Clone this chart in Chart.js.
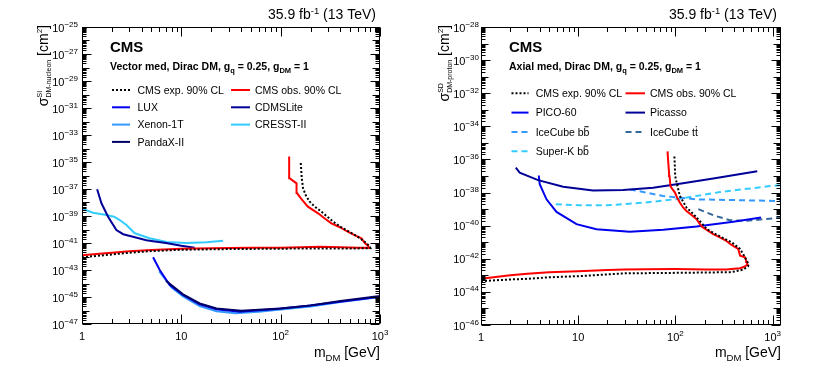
<!DOCTYPE html>
<html><head><meta charset="utf-8">
<script src="https://cdn.jsdelivr.net/npm/chart.js@4.4.0/dist/chart.umd.min.js"></script>
<style>
html,body{margin:0;padding:0;background:#fff;}
#wrap{position:relative;width:830px;height:374px;overflow:hidden;background:#fff;}
canvas{position:absolute;top:0;}
</style></head><body>
<div id="wrap">
<canvas id="c1" width="415" height="374" style="left:0;width:415px;height:374px"></canvas>
<canvas id="c2" width="415" height="374" style="left:415px;width:415px;height:374px"></canvas>
</div>
<script>
// ===== Left panel (spin-independent, vector mediator): mass [GeV], log10(cross-section [cm^2]) =====
const siCmsObsMass = [1, 1.5, 2, 3, 5, 10, 20, 50, 100, 250, 400, 600, 775, 760, 707, 650, 553, 458, 400, 324, 280, 238, 188, 182, 160, 146, 145, 144, 123, 122, 121.6];
const siCmsObsLog  = [-41.9, -41.8, -41.72, -41.62, -41.52, -41.43, -41.38, -41.36, -41.35, -41.28, -41.32, -41.35, -41.36, -41.2, -41.02, -40.65, -40.41, -40.11, -39.85, -39.54, -39.2, -38.8, -38.31, -38.19, -37.7, -37.3, -37.07, -36.58, -36.2, -35.5, -34.6];
const siCmsExpMass = [1, 2, 3, 5, 10, 30, 100, 300, 600, 800, 790, 760, 700, 600, 500, 400, 338, 300, 257, 220, 196, 180, 168, 163, 159];
const siCmsExpLog  = [-42.06, -41.85, -41.72, -41.6, -41.5, -41.45, -41.42, -41.4, -41.4, -41.38, -41.3, -41.15, -40.9, -40.55, -40.2, -39.8, -39.42, -39.1, -38.68, -38.3, -37.94, -37.5, -36.95, -36.2, -34.98];
const luxMass = [5.2, 6.06, 7.64, 10.4, 15.3, 22.6, 38.7, 83.8, 182, 394, 1000];
const luxLog  = [-42.06, -43.0, -44.11, -44.85, -45.54, -45.91, -46.09, -45.91, -45.67, -45.35, -44.98];
const xenonMass = [6, 8, 10.4, 15.3, 22.6, 35, 60, 100, 200, 400, 1000];
const xenonLog  = [-43.1, -44.3, -44.95, -45.68, -46.05, -46.2, -46.1, -45.92, -45.7, -45.38, -45.0];
const pandaMass = [7, 10.4, 15.3, 22.6, 40, 100, 200, 400, 1000];
const pandaLog  = [-43.8, -44.8, -45.48, -45.85, -46.02, -45.85, -45.62, -45.3, -44.93];
const cdmsMass = [1.42, 1.57, 1.83, 2.22, 2.6, 3.26, 4.45, 5.2, 7, 10, 13.6];
const cdmsLog  = [-37.02, -38.06, -39.05, -40.04, -40.35, -40.53, -40.8, -40.87, -41.0, -41.2, -41.35];
const cresstMass = [1, 1.29, 1.76, 2.1, 2.4, 2.8, 3.4, 4.8, 7.1, 11.2, 17.9, 26.3];
const cresstLog  = [-38.45, -38.76, -38.93, -39.05, -39.3, -39.67, -40.28, -40.65, -40.93, -41.0, -40.95, -40.83];

// ===== Right panel (spin-dependent, axial mediator) =====
const sdCmsObsMass = [1, 2, 3, 5, 10, 20, 30, 50, 100, 209, 335, 400, 463, 510, 553, 540, 534, 520, 463, 443, 400, 366, 330, 287, 245, 210, 186, 165, 150, 130, 120, 111, 104, 99, 92, 89, 87, 86, 84, 83];
const sdCmsObsLog  = [-43.21, -43.0, -42.91, -42.82, -42.76, -42.68, -42.65, -42.63, -42.62, -42.65, -42.65, -42.6, -42.57, -42.48, -42.35, -42.2, -42.11, -41.91, -41.81, -41.41, -41.25, -41.11, -40.9, -40.71, -40.51, -40.25, -40.05, -39.61, -39.4, -39.11, -38.9, -38.6, -38.3, -38.0, -37.75, -37.61, -37.0, -36.8, -36.0, -35.51];
const sdCmsExpMass = [1, 2, 3, 5, 10, 30, 100, 200, 363, 420, 500, 560, 565, 520, 463, 380, 287, 210, 178, 150, 130, 111, 103, 99.5, 98.5, 97.5];
const sdCmsExpLog  = [-43.35, -43.25, -43.21, -43.12, -43.05, -42.88, -42.85, -42.83, -42.81, -42.75, -42.65, -42.45, -42.31, -41.91, -41.41, -41.01, -40.65, -40.21, -39.71, -39.25, -38.9, -38.2, -37.4, -37.0, -36.3, -35.77];
const picoMass = [3.93, 4.02, 4.72, 5.98, 9.6, 15.4, 34, 75, 165, 394, 760];
const picoLog  = [-36.97, -37.5, -38.41, -39.17, -39.91, -40.21, -40.37, -40.25, -40.05, -39.77, -39.5];
const picassoMass = [2.28, 2.5, 3.87, 7.0, 14.2, 29, 59, 111, 245, 695];
const picassoLog  = [-36.5, -36.8, -37.25, -37.65, -37.87, -37.85, -37.71, -37.47, -37.15, -36.71];
const iceBbMass = [34, 75, 165, 540, 1220];
const iceBbLog  = [-37.81, -38.21, -38.41, -38.47, -38.51];
const iceTtMass = [172, 245, 363, 540, 1220];
const iceTtLog  = [-39.0, -39.37, -39.67, -39.71, -39.51];
const superKMass = [5.88, 10, 19.6, 50, 111, 287, 938, 1220];
const superKLog  = [-38.71, -38.76, -38.77, -38.6, -38.37, -37.97, -37.61, -37.55];

// ===== Axis tick labels =====
const xTickValues = [1, 10, 100, 1000];
const xTickLabels = [['1'], ['10'], ['10', '2'], ['10', '3']];
const yTickExpLeft  = [-25, -27, -29, -31, -33, -35, -37, -39, -41, -43, -45, -47];
const yTickExpRight = [-28, -30, -32, -34, -36, -38, -40, -42, -44, -46];

const FF = '"Liberation Sans", Arial, Helvetica, sans-serif';
function fnt(p){ return (p.bold ? 'bold ' : '') + p.size + 'px ' + FF; }
function richWidth(ctx, parts){
  let w = 0;
  for (const p of parts){ ctx.font = fnt(p); const pw = ctx.measureText(p.t).width; if (!p.stack) w += pw; }
  return w;
}
function drawRich(ctx, parts, x, y, align){
  const w = richWidth(ctx, parts);
  let cx = align === 'right' ? x - w : (align === 'center' ? x - w / 2 : x);
  ctx.textAlign = 'left'; ctx.textBaseline = 'alphabetic';
  for (const p of parts){
    ctx.font = fnt(p);
    const yy = y + (p.dy || 0);
    ctx.fillText(p.t, cx, yy);
    const pw = ctx.measureText(p.t).width;
    if (p.over){ ctx.fillRect(cx + 0.8, yy - p.size * 0.9, pw - 1.6, 1); }
    if (!p.stack) cx += pw;
  }
}
function pts(m, l){ return m.map((v, i) => ({ x: v, y: Math.pow(10, l[i]) })); }
function ds(m, l, color, dash){
  return { data: pts(m, l), borderColor: color, backgroundColor: color, borderWidth: 2,
           borderDash: dash || [], showLine: true, pointRadius: 0, fill: false, tension: 0 };
}

function makeDecor(cfg){
  return {
    id: 'decor_' + cfg.id,
    afterDraw(chart){
      const ctx = chart.ctx, a = chart.chartArea, xs = chart.scales.x, ys = chart.scales.y;
      ctx.save();
      ctx.fillStyle = '#000'; ctx.strokeStyle = '#000'; ctx.lineWidth = 1; ctx.setLineDash([]);
      const L = Math.round(a.left) + 0.5, R = Math.round(a.right) - 0.5, T = Math.round(a.top) + 0.5, B = Math.round(a.bottom) - 0.5;
      ctx.strokeRect(L, T, R - L, B - T);
      ctx.beginPath();
      const xd0 = Math.floor(Math.log10(xs.min) + 1e-9), xd1 = Math.ceil(Math.log10(xs.max));
      for (let d = xd0; d <= xd1; d++) for (let k = 1; k <= 9; k++){
        const v = k * Math.pow(10, d);
        if (v < xs.min * 0.9999 || v > xs.max * 1.0001) continue;
        const px = Math.round(xs.getPixelForValue(v)) + 0.5;
        const len = k === 1 ? 9 : 4.5;
        ctx.moveTo(px, B); ctx.lineTo(px, B - len);
        ctx.moveTo(px, T); ctx.lineTo(px, T + len);
      }
      const yd0 = Math.round(Math.log10(ys.min)), yd1 = Math.round(Math.log10(ys.max));
      for (let d = yd0; d <= yd1; d++) for (let k = 1; k <= 9; k++){
        const v = k * Math.pow(10, d);
        if (v < ys.min * 0.9999 || v > ys.max * 1.0001) continue;
        const py = Math.round(ys.getPixelForValue(v)) + 0.5;
        let len = 4;
        if (k === 1) len = cfg.yLabels.indexOf(d) >= 0 ? 9 : 7;
        ctx.moveTo(L, py); ctx.lineTo(L + len, py);
        ctx.moveTo(R, py); ctx.lineTo(R - len, py);
      }
      ctx.stroke();

      // y tick labels
      for (const e of cfg.yLabels){
        const py = ys.getPixelForValue(Math.pow(10, e));
        drawRich(ctx, [{t: '10', size: 11}, {t: '\u2212' + Math.abs(e), size: 8, dy: -5}], a.left - cfg.yLabGap, py + 4.5, 'right');
      }
      // x tick labels
      xTickValues.forEach((v, i) => {
        const px = xs.getPixelForValue(v);
        const lab = xTickLabels[i];
        const parts = [{t: lab[0], size: 11}];
        if (lab[1]) parts.push({t: lab[1], size: 8, dy: -5});
        drawRich(ctx, parts, px, a.bottom + 16, 'center');
      });
      // x title
      drawRich(ctx, [{t: 'm', size: 14}, {t: 'DM', size: 9.5, dy: 4}, {t: ' [GeV]', size: 14}], a.right, 357, 'right');
      // lumi
      drawRich(ctx, [{t: '35.9 fb', size: 14}, {t: '-1', size: 9.5, dy: -5.5}, {t: ' (13 TeV)', size: 14}], a.right - 4, 19, 'right');
      // CMS + subtitle
      drawRich(ctx, [{t: 'CMS', size: 15, bold: true}], a.left + 28, 52, 'left');
      drawRich(ctx, cfg.subtitle, a.left + 28, 70, 'left');
      // y title
      ctx.save();
      ctx.translate(cfg.yTitleX, a.top - 2);
      ctx.rotate(-Math.PI / 2);
      drawRich(ctx, cfg.yTitle, 0, 0, 'right');
      ctx.restore();
      // legend
      for (const it of cfg.legend){
        const y = cfg.legRows[it.row];
        const c = cfg.legCols[it.col];
        ctx.save();
        ctx.strokeStyle = it.color; ctx.lineWidth = 2; ctx.setLineDash(it.dash || []);
        ctx.beginPath(); ctx.moveTo(c[0], y); ctx.lineTo(c[1], y); ctx.stroke();
        ctx.restore();
        ctx.fillStyle = '#000';
        drawRich(ctx, it.label.map(p => Object.assign({size: 10.5}, p)), c[2], y + 3.8, 'left');
      }
      ctx.restore();
    }
  };
}

function makeChart(id, cfg){
  return new Chart(document.getElementById(id), {
    type: 'scatter',
    data: { datasets: cfg.datasets },
    options: {
      responsive: false, animation: false, devicePixelRatio: 1,
      layout: { padding: cfg.padding },
      plugins: { legend: { display: false }, tooltip: { enabled: false }, title: { display: false } },
      elements: { point: { radius: 0 } },
      scales: {
        x: { type: 'logarithmic', min: cfg.xMin, max: cfg.xMax, display: false },
        y: { type: 'logarithmic', min: cfg.yMin, max: cfg.yMax, display: false }
      }
    },
    plugins: [makeDecor(cfg)]
  });
}

const DOT = [2, 2], DASH = [6, 4];
const TM = 14, TS = 7;

makeChart('c1', {
  id: 'L',
  padding: { left: 82, right: 35, top: 27, bottom: 50 },
  xMin: 1, xMax: 1000, yMin: 1e-47, yMax: 1e-25,
  yLabels: yTickExpLeft, yLabGap: 4,
  yTitleX: 48,
  yTitle: [{t: '\u03c3', size: TM}, {t: 'SI', size: TS, dy: -6.5, stack: true}, {t: 'DM-nucleon', size: TS, dy: 3}, {t: ' [cm', size: TM}, {t: '2', size: TS + 1, dy: -6}, {t: ']', size: TM}],
  subtitle: [{t: 'Vector med, Dirac DM, g', size: 10.5, bold: true}, {t: 'q', size: 7.5, bold: true, dy: 3}, {t: ' = 0.25, g', size: 10.5, bold: true}, {t: 'DM', size: 7.5, bold: true, dy: 3}, {t: ' = 1', size: 10.5, bold: true}],
  legRows: [90, 107.3, 124.6, 141.9],
  legCols: [[112, 130, 137.5], [231, 250, 255]],
  legend: [
    {label: [{t: 'CMS exp. 90% CL'}], color: '#000000', dash: DOT, col: 0, row: 0},
    {label: [{t: 'CMS obs. 90% CL'}], color: '#ff0000', col: 1, row: 0},
    {label: [{t: 'LUX'}], color: '#0000ee', col: 0, row: 1},
    {label: [{t: 'CDMSLite'}], color: '#000099', col: 1, row: 1},
    {label: [{t: 'Xenon-1T'}], color: '#3399ff', col: 0, row: 2},
    {label: [{t: 'CRESST-II'}], color: '#33ccff', col: 1, row: 2},
    {label: [{t: 'PandaX-II'}], color: '#000066', col: 0, row: 3}
  ],
  datasets: [
    ds(siCmsExpMass, siCmsExpLog, '#000000', DOT),
    ds(siCmsObsMass, siCmsObsLog, '#ff0000'),
    ds(pandaMass, pandaLog, '#000066'),
    ds(luxMass, luxLog, '#0000ee'),
    ds(xenonMass, xenonLog, '#3399ff'),
    ds(cdmsMass, cdmsLog, '#000099'),
    ds(cresstMass, cresstLog, '#33ccff')
  ]
});

makeChart('c2', {
  id: 'R',
  padding: { left: 66, right: 49, top: 27, bottom: 49 },
  xMin: 1, xMax: 1220, yMin: 1e-46, yMax: 1e-28,
  yLabels: yTickExpRight, yLabGap: 2,
  yTitleX: 34,
  yTitle: [{t: '\u03c3', size: TM}, {t: 'SD', size: TS, dy: -6.5, stack: true}, {t: 'DM-proton', size: TS, dy: 3}, {t: ' [cm', size: TM}, {t: '2', size: TS + 1, dy: -6}, {t: ']', size: TM}],
  subtitle: [{t: 'Axial med, Dirac DM, g', size: 10.5, bold: true}, {t: 'q', size: 7.5, bold: true, dy: 3}, {t: ' = 0.25, g', size: 10.5, bold: true}, {t: 'DM', size: 7.5, bold: true, dy: 3}, {t: ' = 1', size: 10.5, bold: true}],
  legRows: [93.3, 112.6, 131.9, 151.2],
  legCols: [[96.5, 113.5, 120.7], [210.5, 230, 235]],
  legend: [
    {label: [{t: 'CMS exp. 90% CL'}], color: '#000000', dash: DOT, col: 0, row: 0},
    {label: [{t: 'CMS obs. 90% CL'}], color: '#ff0000', col: 1, row: 0},
    {label: [{t: 'PICO-60'}], color: '#0000ee', col: 0, row: 1},
    {label: [{t: 'Picasso'}], color: '#000099', col: 1, row: 1},
    {label: [{t: 'IceCube b'}, {t: 'b', over: true}], color: '#3399ff', dash: DASH, col: 0, row: 2},
    {label: [{t: 'IceCube t'}, {t: 't', over: true}], color: '#336699', dash: DASH, col: 1, row: 2},
    {label: [{t: 'Super-K b'}, {t: 'b', over: true}], color: '#33ccff', dash: DASH, col: 0, row: 3}
  ],
  datasets: [
    ds(sdCmsExpMass, sdCmsExpLog, '#000000', DOT),
    ds(sdCmsObsMass, sdCmsObsLog, '#ff0000'),
    ds(picassoMass, picassoLog, '#000099'),
    ds(picoMass, picoLog, '#0000ee'),
    ds(iceTtMass, iceTtLog, '#336699', DASH),
    ds(iceBbMass, iceBbLog, '#3399ff', DASH),
    ds(superKMass, superKLog, '#33ccff', DASH)
  ]
});
</script>
</body></html>
